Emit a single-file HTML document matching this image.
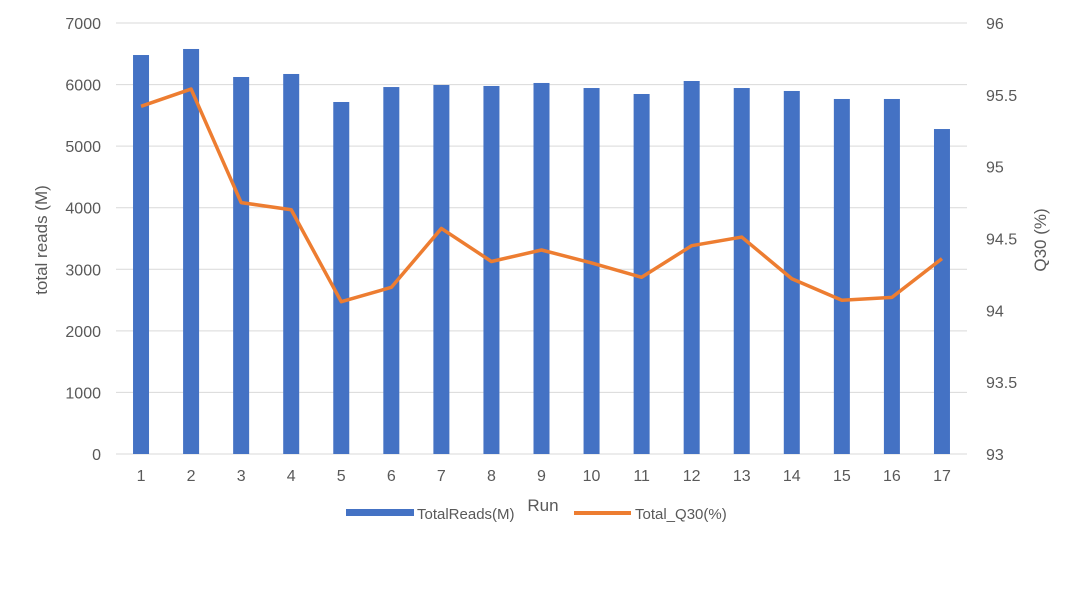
<!DOCTYPE html>
<html><head><meta charset="utf-8"><style>
body{margin:0;background:#fff;}
svg text{font-family:"Liberation Sans",sans-serif;fill:#595959;}
</style></head><body>
<svg id="chart" width="1080" height="589" xmlns="http://www.w3.org/2000/svg">
<g id="grid"></g><g id="bars"></g><g id="line"></g><g id="labels"></g>
<text transform="translate(47,240) rotate(-90)" text-anchor="middle" font-size="17">total reads (M)</text>
<text transform="translate(1046,240) rotate(-90)" text-anchor="middle" font-size="17">Q30 (%)</text>
<text x="543" y="511" text-anchor="middle" font-size="17">Run</text>
<g>
<rect x="346" y="509" width="68" height="7" fill="#4472c4"/>
<text x="417" y="519" font-size="15">TotalReads(M)</text>
<line x1="574" y1="513" x2="631" y2="513" stroke="#ed7d31" stroke-width="4"/>
<text x="635" y="519" font-size="15">Total_Q30(%)</text>
</g>
</svg>
<script>
const categories=["1","2","3","4","5","6","7","8","9","10","11","12","13","14","15","16","17"];
const totalReads=[6480,6578,6123,6172,5717,5960,5993,5977,6026,5944,5847,6058,5944,5896,5766,5766,5278];
const q30=[95.42,95.54,94.75,94.70,94.06,94.16,94.57,94.34,94.42,94.33,94.23,94.45,94.51,94.22,94.07,94.09,94.36];
const leftTicks=[0,1000,2000,3000,4000,5000,6000,7000];
const rightTicks=["93","93.5","94","94.5","95","95.5","96"];
const NS="http://www.w3.org/2000/svg";
const x0=116,x1=967,yTop=23,yBot=454;
const step=(x1-x0)/categories.length;
const xc=i=>x0+step*(i+0.5);
const yL=v=>yBot-(v/7000)*(yBot-yTop);
const yR=v=>yBot-((v-93)/3)*(yBot-yTop);
function mk(t,a,p){const e=document.createElementNS(NS,t);for(const k in a)e.setAttribute(k,a[k]);p.appendChild(e);return e;}
const grid=document.getElementById('grid'),bars=document.getElementById('bars'),line=document.getElementById('line'),labels=document.getElementById('labels');
leftTicks.forEach(v=>{
 const l=mk('line',{x1:x0,x2:x1,y1:yL(v),y2:yL(v),stroke:'#d9d9d9','stroke-width':1},grid);
 
 
 const t=mk('text',{x:101,y:yL(v)+6,'text-anchor':'end','font-size':16},labels);t.textContent=v;
 
 
});
rightTicks.forEach(v=>{
 const t=mk('text',{x:986,y:yR(parseFloat(v))+6,'font-size':16},labels);t.textContent=v;
 
 
});
categories.forEach((c,i)=>{
 const b=mk('rect',{x:xc(i)-8,y:yL(totalReads[i]),width:16,height:yBot-yL(totalReads[i]),fill:'#4472c4'},bars);
 
 
 const t=mk('text',{x:xc(i),y:481,'text-anchor':'middle','font-size':16},labels);t.textContent=c;
 
 
});
const pl=mk('polyline',{points:q30.map((v,i)=>xc(i)+','+yR(v)).join(' '),fill:'none',stroke:'#ed7d31','stroke-width':3.5,'stroke-linejoin':'round'},line);


</script>
</body></html>
